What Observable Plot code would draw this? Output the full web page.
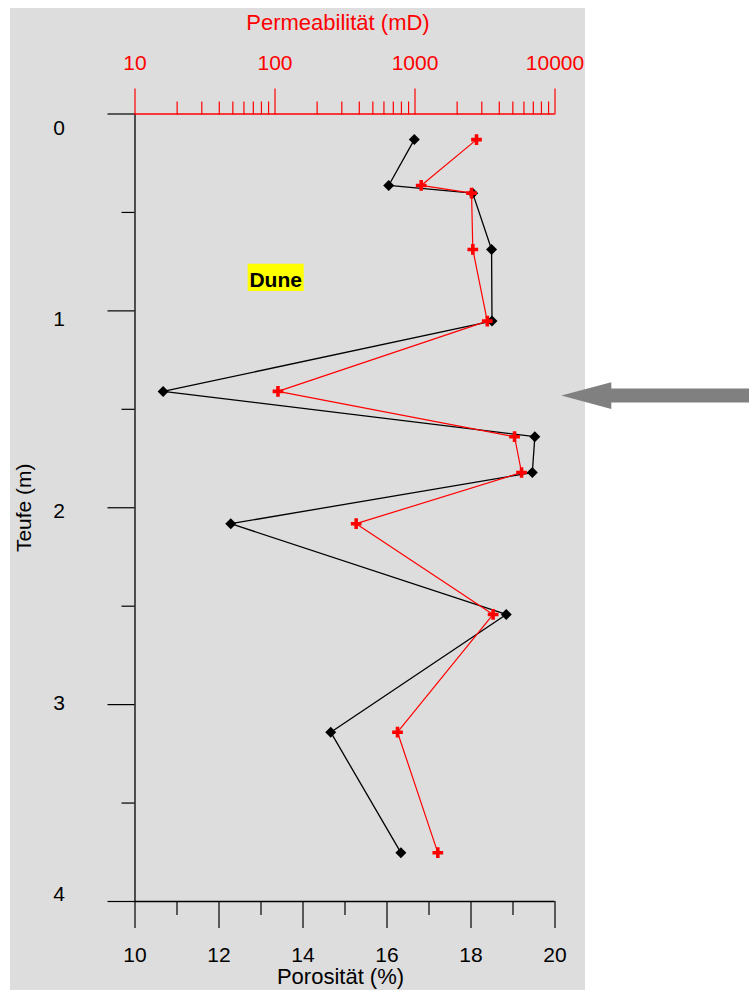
<!DOCTYPE html>
<html>
<head>
<meta charset="utf-8">
<script src="https://cdn.jsdelivr.net/npm/d3@7"></script>
<script src="https://cdn.jsdelivr.net/npm/@observablehq/plot@0.6"></script>
<style>
  body { margin: 0; background: #ffffff; }
  #wrap { position: relative; width: 749px; height: 990px; overflow: hidden; }
  #bg { position: absolute; left: 10px; top: 8px; width: 575px; height: 982px; background: #dddddd; }
  .layer { position: absolute; left: 0; top: 0; }
</style>
</head>
<body>
<div id="wrap">
  <div id="bg"></div>
  <div id="p1" class="layer"></div>
  <div id="p2" class="layer"></div>
</div>
<script>
// ---- data ----
const depth = [0.13, 0.363, 0.402, 0.688, 1.052, 1.409, 1.639, 1.821, 2.081, 2.542, 3.140, 3.752];
const porosity = [16.65, 16.04, 18.04, 18.49, 18.50, 10.67, 19.52, 19.46, 12.28, 18.84, 14.66, 16.33];
const permeability = [2750, 1107, 2535, 2588, 3283, 105, 5140, 5768, 380, 3614, 750, 1455];

// ---- ticks ----
const porosityMajor = [10, 12, 14, 16, 18, 20];
const porosityMinor = [11, 13, 15, 17, 19];
const depthMajor = [0, 1, 2, 3, 4];
const depthMinor = [0.5, 1.5, 2.5, 3.5];
const permMajor = [10, 100, 1000, 10000];
const permMinor = [20, 30, 40, 50, 60, 70, 80, 90, 200, 300, 400, 500, 600, 700, 800, 900, 2000, 3000, 4000, 5000, 6000, 7000, 8000, 9000];

// ---- labels / annotations ----
const xTitle = "Porosität (%)";
const x2Title = "Permeabilität (mD)";
const yTitle = "Teufe (m)";
const duneLabel = ["Dune"];
const dunePorosity = 13.35;
const duneDepth = 0.83;
const arrowDepth = 1.43;
const arrowTipPorosity = 20.15;
const arrowTailPorosity = 24.7;

const rows = depth.map((d, i) => ({depth: d, porosity: porosity[i], perm: permeability[i]}));

const FONT = "'Liberation Sans', Arial, Helvetica, sans-serif";
const W = 749, H = 990;
const M = {marginLeft: 134.5, marginRight: 194.5, marginTop: 113.5, marginBottom: 89};

const duneBox = {draw(ctx) { ctx.rect(-28, -13.7, 56, 27.4); }};
const arrowHead = {draw(ctx) { ctx.moveTo(0, 0); ctx.lineTo(50, -13.4); ctx.lineTo(50, 13.4); ctx.closePath(); }};

const p1 = Plot.plot({
  width: W, height: H, ...M,
  style: {background: "transparent", fontFamily: FONT, fontSize: "21px", color: "black", overflow: "visible"},
  x: {type: "linear", domain: [10, 20]},
  y: {domain: [0, 4], reverse: true},
  marks: [
    Plot.axisX(porosityMajor, {anchor: "bottom", tickSize: 27, tickPadding: 19, strokeWidth: 1.2, fontSize: 21, label: null}),
    Plot.axisX(porosityMinor, {anchor: "bottom", tickSize: 14, strokeWidth: 1.2, fill: "none", label: null}),
    Plot.axisY(depthMajor, {anchor: "left", tickSize: 27, strokeWidth: 1.2, fill: "none", label: null}),
    Plot.axisY(depthMinor, {anchor: "left", tickSize: 13, strokeWidth: 1.2, fill: "none", label: null}),
    ...depthMajor.map(t => Plot.text([t], {y: d => d, text: d => String(d), frameAnchor: "left", dx: -76, dy: 14 - 5.2 * t, textAnchor: "middle", lineAnchor: "middle", fontSize: 21, fill: "black"})),
    Plot.ruleX([10], {stroke: "black", strokeWidth: 1.3}),
    Plot.ruleY([4], {stroke: "black", strokeWidth: 1.3}),
    Plot.text([xTitle], {frameAnchor: "bottom", lineAnchor: "middle", textAnchor: "middle", dy: 75.3, dx: -4.5, fontSize: 22, fill: "black", letterSpacing: "0.2px"}),
    Plot.text([yTitle], {frameAnchor: "left", lineAnchor: "middle", textAnchor: "middle", rotate: -90, dx: -111, dy: 0, fontSize: 21, fill: "black"}),
    Plot.dot(duneLabel, {x: () => dunePorosity, y: () => duneDepth, symbol: duneBox, r: 5, fill: "#ffff00", stroke: "none"}),
    Plot.text(duneLabel, {x: () => dunePorosity, y: () => duneDepth, text: d => d, dy: 3, lineAnchor: "middle", fontSize: 21, fontWeight: "bold", fill: "black"}),
    Plot.line(rows, {x: "porosity", y: "depth", stroke: "black", strokeWidth: 1.3}),
    Plot.dot(rows, {x: "porosity", y: "depth", symbol: "diamond2", r: 4.95, fill: "black", stroke: "none"}),
    Plot.ruleY([arrowDepth], {y: d => d, x1: arrowTipPorosity + 1, x2: arrowTailPorosity, stroke: "#808080", strokeWidth: 14}),
    Plot.dot([arrowDepth], {x: () => arrowTipPorosity, y: d => d, symbol: arrowHead, r: 5, fill: "#808080", stroke: "none"})
  ]
});
document.getElementById("p1").appendChild(p1);

const p2 = Plot.plot({
  width: W, height: H, ...M,
  style: {background: "transparent", fontFamily: FONT, fontSize: "21px", color: "red", overflow: "visible"},
  x: {type: "log", domain: [10, 10000]},
  y: {domain: [0, 4], reverse: true, axis: null},
  marks: [
    Plot.axisX(permMajor, {anchor: "top", tickSize: 26, tickPadding: 18.5, stroke: "red", fill: "red", strokeWidth: 1.2, fontSize: 21, label: null, tickFormat: d => String(d)}),
    Plot.axisX(permMinor, {anchor: "top", tickSize: 13, stroke: "red", fill: "none", strokeWidth: 1.2, label: null}),
    Plot.ruleY([0], {stroke: "red", strokeWidth: 1.3}),
    Plot.line(rows, {x: "perm", y: "depth", stroke: "red", strokeWidth: 1.2}),
    Plot.dot(rows, {x: "perm", y: "depth", symbol: "cross", r: 4.5, fill: "red", stroke: "none"}),
    Plot.text([x2Title], {frameAnchor: "top", lineAnchor: "middle", textAnchor: "middle", dy: -91, dx: -7, fontSize: 22, fill: "red", letterSpacing: "0.3px"})
  ]
});
document.getElementById("p2").appendChild(p2);
</script>
</body>
</html>
